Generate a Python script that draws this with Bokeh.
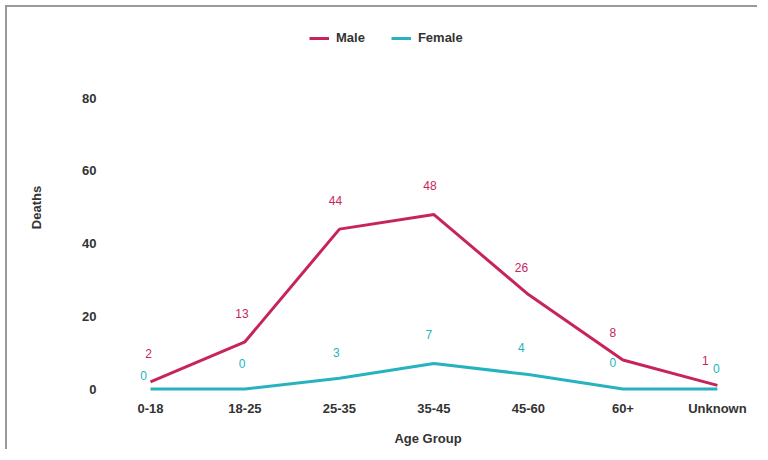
from bokeh.plotting import figure
from bokeh.models import ColumnDataSource, LabelSet, Legend, LegendItem, Range1d, FixedTicker
from bokeh.core.properties import value
from bokeh.embed import file_html
from bokeh.resources import INLINE

age_groups = ["0-18", "18-25", "25-35", "35-45", "45-60", "60+", "Unknown"]
male = [2, 13, 44, 48, 26, 8, 1]
female = [0, 0, 3, 7, 4, 0, 0]
y_ticks = [0, 20, 40, 60, 80]

# label placement (screen-pixel offsets, style only)
male_dx = [-2, -3, -4, -4, -7, -10, -12]
male_dy = [28, 28, 29, 29, 27, 27, 25]
female_dx = [-7, -3, -3, -5, -7, -10, -1]
female_dy = [14, 26, 26, 29, 27, 27, 21]

MALE_C = "#c8245c"
FEMALE_C = "#26b3bf"
FONT = "Liberation Sans"

idx = list(range(len(age_groups)))
src = ColumnDataSource(dict(x=idx, male=male, female=female,
                            male_s=[str(v) for v in male],
                            female_s=[str(v) for v in female],
                            mdx=male_dx, mdy=male_dy, fdx=female_dx, fdy=female_dy))

p = figure(width=752, height=444, output_backend="svg", toolbar_location=None,
           x_range=Range1d(-0.476, 6.35), y_range=Range1d(-1.5, 101.4),
           min_border_left=98, min_border_right=9, min_border_top=13, min_border_bottom=57)
p.margin = (5, 0, 0, 5)
p.styles = {"border-top": "2px solid #9a9a9a", "border-left": "2px solid #9a9a9a"}
p.outline_line_color = None
p.background_fill_color = "white"
p.xgrid.grid_line_color = None
p.ygrid.grid_line_color = None

rm = p.line("x", "male", source=src, line_color=MALE_C, line_width=3)
rf = p.line("x", "female", source=src, line_color=FEMALE_C, line_width=3)

p.add_layout(LabelSet(x="x", y="male", text="male_s", source=src, x_offset="mdx", y_offset="mdy",
                      text_align="center", text_baseline="middle", text_font=value(FONT),
                      text_font_size="12px", text_color=MALE_C))
p.add_layout(LabelSet(x="x", y="female", text="female_s", source=src, x_offset="fdx", y_offset="fdy",
                      text_align="center", text_baseline="middle", text_font=value(FONT),
                      text_font_size="12px", text_color=FEMALE_C))

p.xaxis.ticker = FixedTicker(ticks=idx)
p.xaxis.major_label_overrides = {i: g for i, g in enumerate(age_groups)}
p.yaxis.ticker = FixedTicker(ticks=y_ticks)
for ax in (p.xaxis[0], p.yaxis[0]):
    ax.axis_line_color = None
    ax.major_tick_line_color = None
    ax.minor_tick_line_color = None
    ax.major_label_text_font = FONT
    ax.major_label_text_font_size = "13px"
    ax.major_label_text_font_style = "bold"
    ax.major_label_text_color = "#333333"
    ax.axis_label_text_font = FONT
    ax.axis_label_text_font_size = "13px"
    ax.axis_label_text_font_style = "bold"
    ax.axis_label_text_color = "#333333"
p.xaxis.axis_label = "Age Group"
p.yaxis.axis_label = "Deaths"
p.xaxis.major_label_standoff = 0
p.xaxis.axis_label_standoff = 12
p.yaxis.major_label_standoff = 3
p.yaxis.axis_label_standoff = 35

legend = Legend(items=[LegendItem(label="Male", renderers=[rm]),
                       LegendItem(label="Female", renderers=[rf])],
                orientation="horizontal", location=(204, 349),
                label_text_font=FONT, label_text_font_size="13px", label_text_font_style="bold",
                label_text_color="#333333", glyph_width=20, glyph_height=12,
                label_standoff=7, spacing=26, border_line_color=None, background_fill_alpha=0,
                margin=0, padding=6)
p.add_layout(legend)

open("out.html", "w").write(file_html(p, INLINE))
